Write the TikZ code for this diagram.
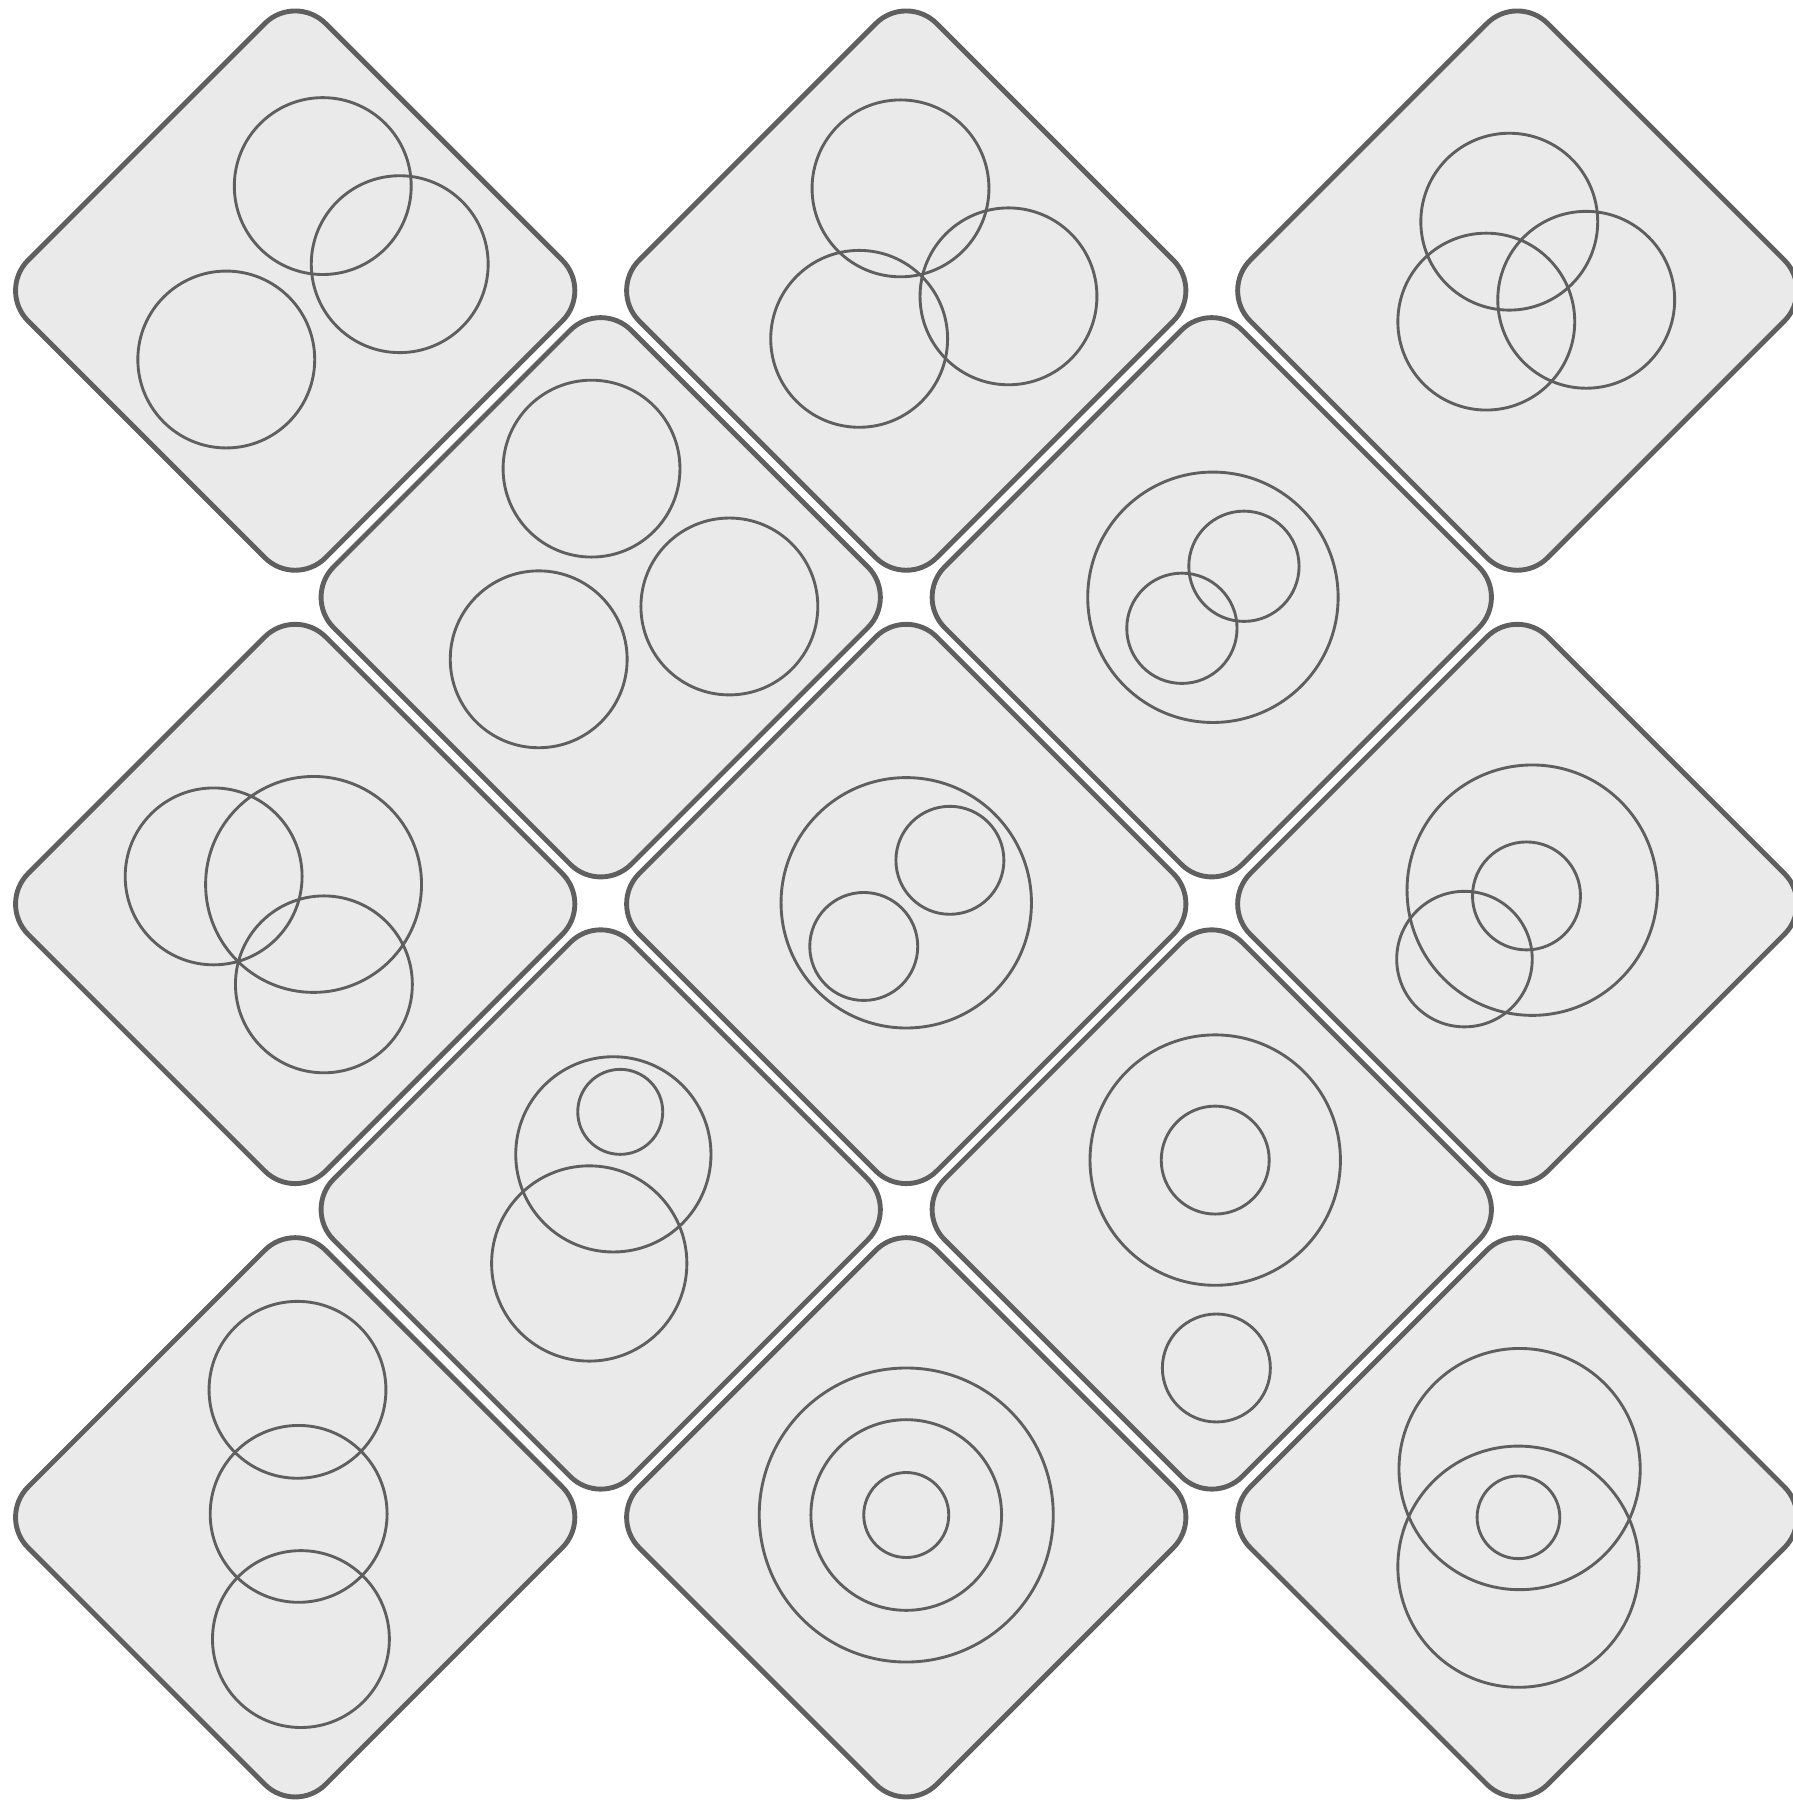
\documentclass[tikz,border=0pt]{standalone}
\usepackage{tikz}
\definecolor{tilefill}{HTML}{EAEAEA}
\definecolor{inkgray}{HTML}{5F5F5F}

\begin{document}
\begin{tikzpicture}[
  x=0.02cm, y=-0.02cm,
  tile/.style={draw=inkgray, fill=tilefill, line width=0.085cm, rounded corners=0.75cm},
  ring/.style={draw=inkgray, line width=0.05cm}
]
\useasboundingbox (0,0) rectangle (1561,1568);
\clip (0,0) rectangle (1561,1568);
% tiles on the diagonal grid
\foreach \cx/\cy in {257/253, 789/253, 1321/253, 523/520, 1055/520,
                     257/787, 789/787, 1321/787, 523/1053, 1055/1053,
                     257/1321, 789/1321, 1321/1321}
  \draw[tile] (\cx,\cy) +(-259,0) -- +(0,-259) -- +(259,0) -- +(0,259) -- cycle;
% circles, tile by tile
\foreach \x/\y/\r in {281/162/77, 348/230/77, 197/313/77,
                      784/164/77, 878/258/77, 748/295/77,
                      1314/193/77, 1381/261/77, 1294/280/77,
                      515/408/77, 635/528/77, 469/574/77,
                      1056/520/109, 1083/493/48, 1029/547/48,
                      186/763/77, 273/770/94, 282/857/77,
                      789/786/109, 827/749/47, 752/824/47,
                      1334/775/109, 1329/780/47, 1275/835/59,
                      534/1005/85, 540/968/37, 513/1100/85,
                      1058/1010/109, 1058/1010/47, 1059/1191/47,
                      259/1210/77, 260/1318/77, 262/1427/77,
                      789/1319/128, 789/1319/83, 789/1319/37,
                      1323/1279/105, 1322/1364/105, 1322/1321/36}
  \draw[ring] (\x,\y) circle (\r);
\end{tikzpicture}
\end{document}
